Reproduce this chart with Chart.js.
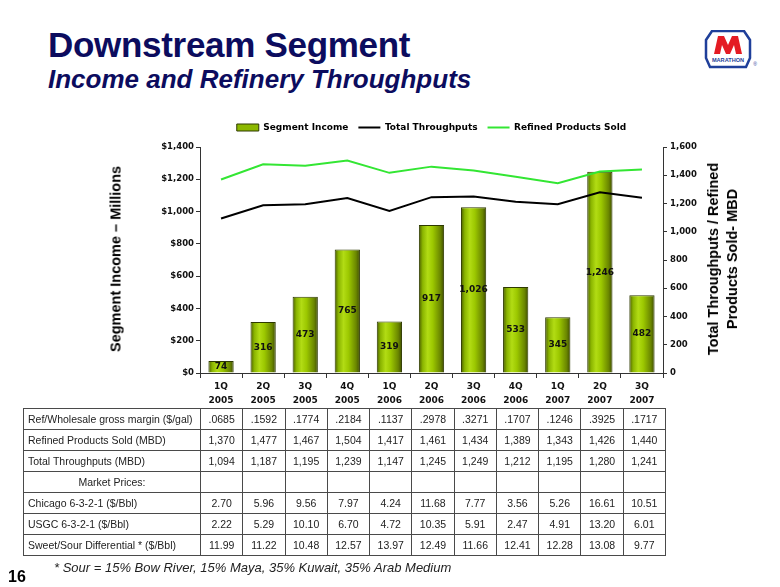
<!DOCTYPE html>
<html>
<head>
<meta charset="utf-8">
<script src="https://cdn.jsdelivr.net/npm/chart.js@4.4.1/dist/chart.umd.min.js"></script>
<style>
  html, body { margin:0; padding:0; background:#fff; }
  body { width:780px; height:587px; position:relative; overflow:hidden; font-family:"Liberation Sans", Arial, sans-serif; }
  #title { position:absolute; left:48px; top:25px; font:bold 35px "Liberation Sans", Arial, sans-serif; color:#0c0c5e; letter-spacing:-0.3px; }
  #subtitle { position:absolute; left:48px; top:64px; font:italic bold 26px "Liberation Sans", Arial, sans-serif; color:#0c0c5e; }
  #chartBox { position:absolute; left:0; top:110px; width:780px; height:300px; }
  #chartBox canvas { display:block; }
  .ytitle { position:absolute; font:bold 14.5px "Liberation Sans", Arial, sans-serif; color:#000; white-space:nowrap; transform:translate(-50%,-50%) rotate(-90deg); text-align:center; line-height:19px; }
  #data { position:absolute; left:23px; top:408px; border-collapse:collapse; table-layout:fixed; width:643px; font:10.5px "Liberation Sans", Arial, sans-serif; color:#222; }
  #data td { border:1px solid #4a4a4a; height:20px; padding:0; text-align:center; white-space:nowrap; overflow:hidden; }
  #data td.lab { text-align:left; padding-left:4px; }
  #data td.mp { text-align:center; }
  #foot { position:absolute; left:54px; top:560px; font:italic 13px "Liberation Sans", Arial, sans-serif; color:#222; }
  #page { position:absolute; left:8px; top:568px; font:bold 16px "Liberation Sans", Arial, sans-serif; color:#000; }
  #logo { position:absolute; left:703px; top:30px; }
</style>
</head>
<body>
<div id="title">Downstream Segment</div>
<div id="subtitle">Income and Refinery Throughputs</div>
<svg id="logo" width="56" height="40" viewBox="0 0 56 40">
  <polygon points="9,1 41,1 47,10 47,28 43,37 7,37 3,28 3,10" fill="#fff" stroke="#1f3f9a" stroke-width="2.5"/>
  <polygon points="11,24 15,6 21,6 25,15 29,6 35,6 39,24 33,24 31,15 27,24 23,24 19,15 17,24" fill="#e41b23"/>
  <text x="25" y="32" font-family="Liberation Sans, Arial" font-weight="bold" font-size="5.6" fill="#1f3f9a" text-anchor="middle">MARATHON</text>
  <text x="52" y="36" font-family="Liberation Sans, Arial" font-size="5" fill="#1f3f9a" text-anchor="middle">®</text>
</svg>
<div id="chartBox"><canvas id="c" width="780" height="300"></canvas></div>
<div class="ytitle" style="left:116px; top:259px;">Segment Income – Millions</div>
<div class="ytitle" style="left:723px; top:259px;">Total Throughputs / Refined<br>Products Sold- MBD</div>
<table id="data"></table>
<div id="foot">* Sour = 15% Bow River, 15% Maya, 35% Kuwait, 35% Arab Medium</div>
<div id="page">16</div>
<script>
const quarters = [["1Q","2005"],["2Q","2005"],["3Q","2005"],["4Q","2005"],["1Q","2006"],["2Q","2006"],["3Q","2006"],["4Q","2006"],["1Q","2007"],["2Q","2007"],["3Q","2007"]];
const segmentIncome = [74, 316, 473, 765, 319, 917, 1026, 533, 345, 1246, 482];
const totalThroughputs = [1094, 1187, 1195, 1239, 1147, 1245, 1249, 1212, 1195, 1280, 1241];
const refinedProductsSold = [1370, 1477, 1467, 1504, 1417, 1461, 1434, 1389, 1343, 1426, 1440];
const grossMargin = [".0685", ".1592", ".1774", ".2184", ".1137", ".2978", ".3271", ".1707", ".1246", ".3925", ".1717"];
const chicago = ["2.70", "5.96", "9.56", "7.97", "4.24", "11.68", "7.77", "3.56", "5.26", "16.61", "10.51"];
const usgc = ["2.22", "5.29", "10.10", "6.70", "4.72", "10.35", "5.91", "2.47", "4.91", "13.20", "6.01"];
const sweetSour = ["11.99", "11.22", "10.48", "12.57", "13.97", "12.49", "11.66", "12.41", "12.28", "13.08", "9.77"];
const leftTicks = [0, 200, 400, 600, 800, 1000, 1200, 1400];
const rightTicks = [0, 200, 400, 600, 800, 1000, 1200, 1400, 1600];

// table
const fmt = v => v.toLocaleString('en-US');
const rows = [
  ["Ref/Wholesale gross margin ($/gal)", grossMargin],
  ["Refined Products Sold (MBD)", refinedProductsSold.map(fmt)],
  ["Total Throughputs (MBD)", totalThroughputs.map(fmt)],
  ["Market Prices:", null],
  ["Chicago 6-3-2-1 ($/Bbl)", chicago],
  ["USGC 6-3-2-1 ($/Bbl)", usgc],
  ["Sweet/Sour Differential * ($/Bbl)", sweetSour]
];
const tbl = document.getElementById('data');
let html = '<colgroup><col style="width:177px">' + quarters.map(()=>'<col>').join('') + '</colgroup>';
rows.forEach(([lab, vals]) => {
  html += '<tr><td class="' + (vals ? 'lab' : 'mp') + '">' + lab + '</td>';
  for (let i = 0; i < quarters.length; i++) html += '<td>' + (vals ? vals[i] : '') + '</td>';
  html += '</tr>';
});
tbl.innerHTML = html;

const tickFont = { family: "DejaVu Sans", weight: "bold", size: 8.5 };

// horizontal gradient fill for each bar, applied once bar positions are known
const barGradient = {
  id: 'barGradient',
  beforeDatasetsDraw(chart) {
    const meta = chart.getDatasetMeta(0);
    meta.data.forEach(el => {
      const x0 = el.x - el.width / 2, x1 = el.x + el.width / 2;
      const g = chart.ctx.createLinearGradient(x0, 0, x1, 0);
      g.addColorStop(0, '#4a5c00');
      g.addColorStop(0.15, '#8ab400');
      g.addColorStop(0.35, '#b2dc14');
      g.addColorStop(0.55, '#9cc800');
      g.addColorStop(0.85, '#6a8600');
      g.addColorStop(1, '#3e4c00');
      el.options = Object.assign({}, el.options, { backgroundColor: g });
    });
  }
};

const barLabels = {
  id: 'barLabels',
  afterDatasetsDraw(chart) {
    const meta = chart.getDatasetMeta(0);
    const c = chart.ctx;
    c.save();
    c.font = 'bold 9px "DejaVu Sans"';
    c.fillStyle = '#111';
    c.textAlign = 'center';
    c.textBaseline = 'middle';
    meta.data.forEach((bar, i) => {
      const mid = (bar.y + bar.base) / 2;
      c.fillText(fmt(segmentIncome[i]), bar.x, mid);
    });
    c.restore();
  }
};

// add a little space between legend and plot area
const legendGap = {
  id: 'legendGap',
  afterInit(chart) {
    const lg = chart.legend;
    if (lg && !lg._gapPatched) {
      const orig = lg.fit;
      lg.fit = function () { orig.call(this); this.height += 5; };
      lg._gapPatched = true;
    }
  }
};

const chart = new Chart(document.getElementById('c'), {
  type: 'bar',
  data: {
    labels: quarters,
    datasets: [
      { type: 'bar', label: 'Segment Income', data: segmentIncome, yAxisID: 'y',
        backgroundColor: () => '#99c800', borderColor: '#2e3a00', borderWidth: 1,
        barPercentage: 0.6, categoryPercentage: 1.0, order: 3 },
      { type: 'line', label: 'Total Throughputs', data: totalThroughputs, yAxisID: 'y1',
        borderColor: '#000', backgroundColor: '#000', borderWidth: 2, pointRadius: 0, tension: 0, order: 1 },
      { type: 'line', label: 'Refined Products Sold', data: refinedProductsSold, yAxisID: 'y1',
        borderColor: '#33e633', backgroundColor: '#33e633', borderWidth: 2, pointRadius: 0, tension: 0, order: 2 }
    ]
  },
  options: {
    responsive: false,
    maintainAspectRatio: false,
    animation: false,
    devicePixelRatio: 1,
    layout: { padding: { top: 3, left: 0, right: 0, bottom: 0 } },
    plugins: {
      tooltip: { enabled: false },
      legend: {
        fullSize: false,
        labels: {
          font: { family: "DejaVu Sans", weight: "bold", size: 9 },
          color: '#111',
          usePointStyle: true,
          pointStyleWidth: 22,
          boxHeight: 7,
          padding: 10,
          generateLabels(chart) {
            return chart.data.datasets.map((ds, i) => ({
              text: ds.label,
              fillStyle: i === 0 ? '#8cb800' : ds.borderColor,
              strokeStyle: i === 0 ? '#2e3a00' : ds.borderColor,
              lineWidth: i === 0 ? 1 : 2,
              pointStyle: i === 0 ? 'rect' : 'line',
              datasetIndex: i,
              hidden: false
            }));
          }
        }
      }
    },
    scales: {
      x: {
        offset: true,
        grid: { display: true, drawOnChartArea: false, drawTicks: true, tickLength: 5, color: '#333', offset: true },
        border: { display: true, color: '#333', width: 1 },
        ticks: { font: { family: "DejaVu Sans", weight: "bold", size: 9, lineHeight: 1.6 }, color: '#111', padding: 1, maxRotation: 0, autoSkip: false },
        afterFit(s) { s.height = 37; }
      },
      y: {
        position: 'left',
        min: 0, max: 1400,
        afterBuildTicks(s) { s.ticks = leftTicks.map(v => ({ value: v })); },
        grid: { drawOnChartArea: false, drawTicks: true, tickLength: 4, color: '#333' },
        border: { display: true, color: '#333', width: 1 },
        ticks: { font: tickFont, color: '#111', padding: 2, callback: v => '$' + fmt(v) },
        afterFit(s) { s.width = 200; }
      },
      y1: {
        position: 'right',
        min: 0, max: 1600,
        afterBuildTicks(s) { s.ticks = rightTicks.map(v => ({ value: v })); },
        grid: { drawOnChartArea: false, drawTicks: true, tickLength: 4, color: '#333' },
        border: { display: true, color: '#333', width: 1 },
        ticks: { font: tickFont, color: '#111', padding: 3, callback: v => fmt(v) },
        afterFit(s) { s.width = 117; }
      }
    }
  },
  plugins: [legendGap, barGradient, barLabels]
});
chart.update('none');
</script>
</body>
</html>
